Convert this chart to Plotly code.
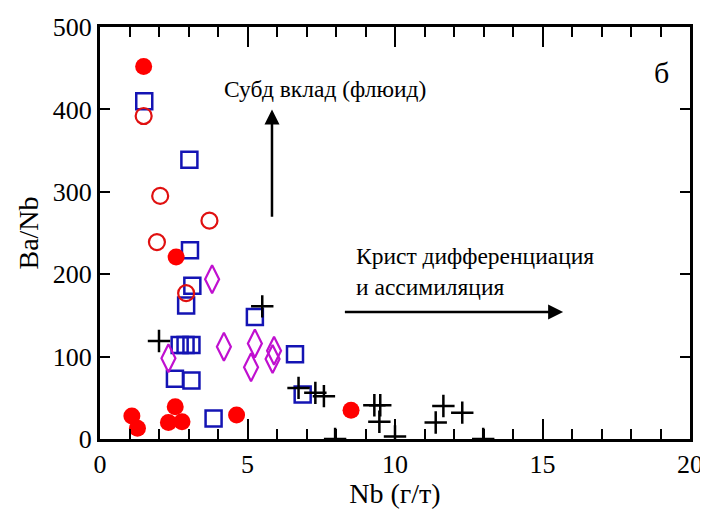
import plotly.graph_objects as go

# Filled red circles
red_fill_x = [1.48, 2.58, 1.08, 1.27, 2.55, 2.32, 2.78, 4.63, 8.51]
red_fill_y = [452, 221, 28, 13, 39, 20, 21, 29, 35]

# Open red circles
red_open_x = [1.48, 2.04, 3.71, 1.93, 2.92]
red_open_y = [392, 295, 265, 239, 177]

# Blue open squares
blue_sq_x = [1.50, 3.03, 3.05, 3.13, 2.92, 2.70, 2.90, 3.10, 2.54, 3.10, 3.85, 5.25, 6.61, 6.87]
blue_sq_y = [410, 339, 229, 186, 162, 114, 114, 114, 73, 71, 25, 148, 103, 54]

# Magenta open diamonds
mag_x = [3.80, 2.32, 4.20, 5.25, 5.12, 5.90, 5.85]
mag_y = [194, 98, 112, 116, 87, 107, 97]

# Black crosses
blk_x = [2.00, 5.50, 6.73, 7.30, 7.59, 7.97, 9.30, 9.50, 9.47, 10.00, 11.64, 11.38, 12.28, 12.99]
blk_y = [119, 161, 62, 56, 52, 0, 41, 41, 21, 3, 40, 20, 32, 0]

x_ticks = [0, 5, 10, 15, 20]
y_ticks = [0, 100, 200, 300, 400, 500]

FONT = "Liberation Serif"

fig = go.Figure()
fig.add_trace(go.Scatter(x=blue_sq_x, y=blue_sq_y, mode="markers",
                         marker=dict(symbol="square-open", size=16, color="#1414b4",
                                     line=dict(width=2.5, color="#1414b4"))))
fig.add_trace(go.Scatter(x=mag_x, y=mag_y, mode="markers",
                         marker=dict(symbol="diamond-tall-open", size=20, color="#c010d0",
                                     line=dict(width=2.2, color="#c010d0"))))
fig.add_trace(go.Scatter(x=red_open_x, y=red_open_y, mode="markers",
                         marker=dict(symbol="circle-open", size=16, color="#e01010",
                                     line=dict(width=2.2, color="#e01010"))))
fig.add_trace(go.Scatter(x=red_fill_x, y=red_fill_y, mode="markers",
                         marker=dict(symbol="circle", size=17, color="#ff0000",
                                     line=dict(width=0))))
fig.add_trace(go.Scatter(x=blk_x, y=blk_y, mode="markers",
                         marker=dict(symbol="cross-thin", size=16, color="black",
                                     line=dict(width=2.5, color="black"))))

axis_common = dict(
    showgrid=False, zeroline=False, showline=True, linecolor="black", linewidth=3,
    mirror="ticks", ticks="inside", tickcolor="black", tickwidth=2,
    tickfont=dict(family=FONT, size=26, color="black"), automargin=False,
)

fig.update_xaxes(range=[0, 20], tickvals=x_ticks, ticklen=20,
                 minor=dict(ticks="inside", ticklen=10, dtick=1, tickcolor="black", tickwidth=2),
                 title=dict(text="Nb (г/т)", font=dict(family=FONT, size=28, color="black"), standoff=0),
                 **axis_common)
fig.update_yaxes(range=[0, 500], tickvals=y_ticks, ticklen=10,
                 title=dict(text="Ba/Nb", font=dict(family=FONT, size=28, color="black"), standoff=6),
                 **axis_common)

annotations = [
    dict(x=5.83, y=400, ax=5.83, ay=268, xref="x", yref="y", axref="x", ayref="y",
         text="", showarrow=True, arrowhead=2, arrowsize=1.2, arrowwidth=2.5, arrowcolor="black"),
    dict(x=15.7, y=154, ax=8.25, ay=154, xref="x", yref="y", axref="x", ayref="y",
         text="", showarrow=True, arrowhead=2, arrowsize=1.2, arrowwidth=2.5, arrowcolor="black"),
    dict(x=4.12, y=425, xref="x", yref="y", text="Субд вклад (флюид)", showarrow=False,
         xanchor="left", yanchor="middle", font=dict(family=FONT, size=23.5, color="black")),
    dict(x=8.6, y=203, xref="x", yref="y", text="Крист дифференциация<br>и ассимиляция",
         showarrow=False, xanchor="left", yanchor="middle", align="left",
         font=dict(family=FONT, size=23.5, color="black")),
    dict(x=19.05, y=445, xref="x", yref="y", text="б", showarrow=False,
         xanchor="center", yanchor="middle", font=dict(family=FONT, size=30, color="black")),
    dict(x=0.5, y=1.052, xref="paper", yref="paper", text="Ba/Th", showarrow=False,
         xanchor="center", yanchor="bottom", font=dict(family=FONT, size=24, color="black")),
]

# The page body adds an 8px offset; the figure is sized/margined so the
# plot area lands at x 100..690, y 27..439 in the 708x509 window.
fig.update_layout(
    width=700, height=501,
    margin=dict(l=92, r=18, t=19, b=70, autoexpand=False),
    plot_bgcolor="white", paper_bgcolor="white",
    showlegend=False,
    annotations=annotations,
    font=dict(family=FONT, color="black"),
)

fig.write_html("out.html")
